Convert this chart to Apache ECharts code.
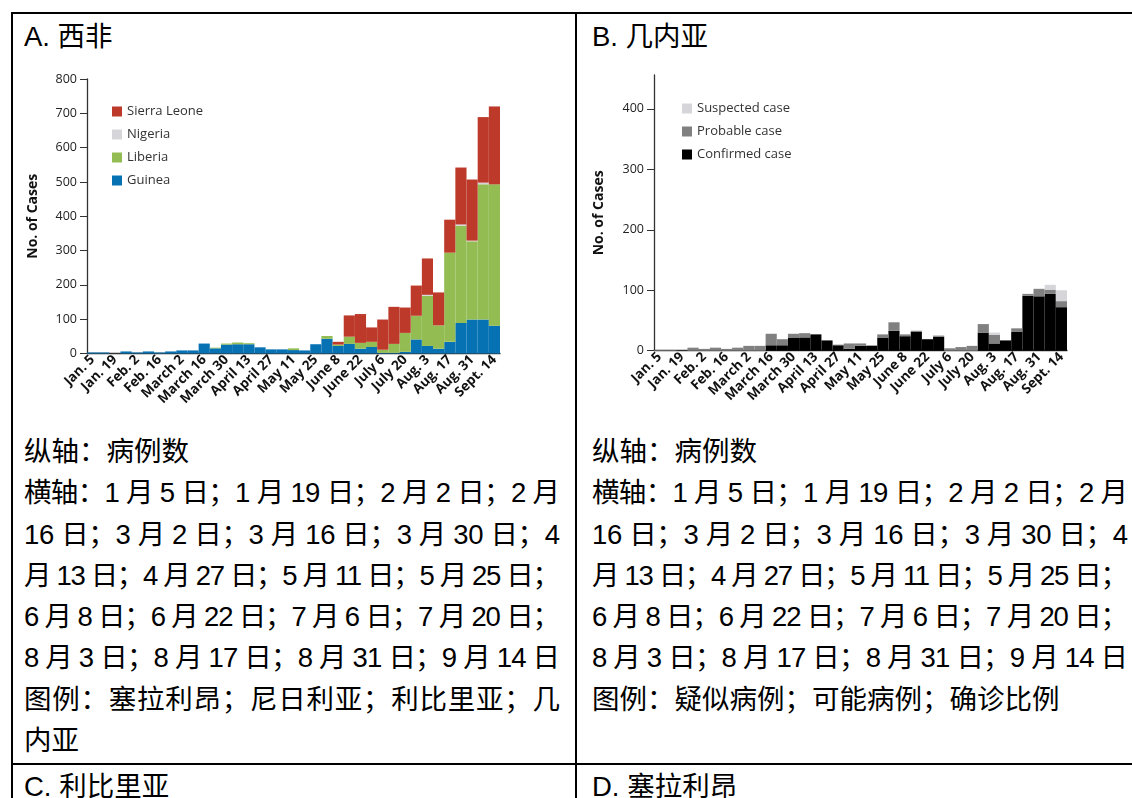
<!DOCTYPE html>
<html><head><meta charset="utf-8">
<script src="https://cdn.jsdelivr.net/npm/echarts@6/dist/echarts.min.js"></script>
<style>
html,body{margin:0;padding:0;background:#fff;width:1132px;height:798px;overflow:hidden;}
#wrap{position:relative;width:1132px;height:798px;}
.ln{position:absolute;background:#000;}
.txt{position:absolute;font-family:"Liberation Sans","Noto Sans CJK SC",sans-serif;font-size:27.5px;line-height:41.3px;color:#000;white-space:nowrap;}
.txt div{height:41.3px;}
.txt span{display:inline-block;white-space:nowrap;}
#chart{position:absolute;left:0;top:0;width:1132px;height:798px;}
</style></head><body>
<div id="wrap">
  <div class="ln" style="left:11px;top:12px;width:1130px;height:2px"></div>
  <div class="ln" style="left:11px;top:12px;width:2px;height:790px"></div>
  <div class="ln" style="left:575px;top:12px;width:2px;height:790px"></div>
  <div class="ln" style="left:11px;top:763px;width:1130px;height:2px"></div>

  <div class="txt" style="left:24px;top:16px">A. 西非</div>
  <div class="txt" style="left:592px;top:16px">B. 几内亚</div>
  <div class="txt" style="left:24px;top:766px">C. 利比里亚</div>
  <div class="txt" style="left:592px;top:766px">D. 塞拉利昂</div>

  <div class="txt" style="left:24px;top:431px;width:536px">
    <div><span>纵轴：病例数</span></div>
    <div><span class="j">横轴：1 月 5 日；1 月 19 日；2 月 2 日；2 月</span></div>
    <div><span class="j">16 日；3 月 2 日；3 月 16 日；3 月 30 日；4</span></div>
    <div><span class="j">月 13 日；4 月 27 日；5 月 11 日；5 月 25 日；</span></div>
    <div><span class="j">6 月 8 日；6 月 22 日；7 月 6 日；7 月 20 日；</span></div>
    <div><span class="j">8 月 3 日；8 月 17 日；8 月 31 日；9 月 14 日</span></div>
    <div><span class="j">图例：塞拉利昂；尼日利亚；利比里亚；几</span></div>
    <div><span>内亚</span></div>
  </div>
  <div class="txt" style="left:592px;top:431px;width:536px">
    <div><span>纵轴：病例数</span></div>
    <div><span class="j">横轴：1 月 5 日；1 月 19 日；2 月 2 日；2 月</span></div>
    <div><span class="j">16 日；3 月 2 日；3 月 16 日；3 月 30 日；4</span></div>
    <div><span class="j">月 13 日；4 月 27 日；5 月 11 日；5 月 25 日；</span></div>
    <div><span class="j">6 月 8 日；6 月 22 日；7 月 6 日；7 月 20 日；</span></div>
    <div><span class="j">8 月 3 日；8 月 17 日；8 月 31 日；9 月 14 日</span></div>
    <div><span>图例：疑似病例；可能病例；确诊比例</span></div>
  </div>
  <div id="chart"></div>
</div>
<script>
// ---- data ----
const weeks = ['Jan. 5','Jan. 12','Jan. 19','Jan. 26','Feb. 2','Feb. 9','Feb. 16','Feb. 23',
  'March 2','March 9','March 16','March 23','March 30','April 6','April 13','April 20','April 27',
  'May 4','May 11','May 18','May 25','June 1','June 8','June 15','June 22','June 29',
  'July 6','July 13','July 20','July 27','Aug. 3','Aug. 10','Aug. 17','Aug. 24','Aug. 31','Sept. 7','Sept. 14'];

// Panel A: West Africa (stack bottom -> top)
const guinea  = [3,3,0,6,3,6,3,6,9,9,29,15,26,27,27,18,12,12,10,9,27,43,22,28,14,19,2,2,5,41,22,14,34,89,99,99,81];
const liberia = [0,0,0,0,0,0,0,0,0,0,0,2,3,5,3,0,0,0,5,0,0,8,4,21,17,15,9,26,55,69,146,68,260,283,228,394,412];
const nigeria = [0,0,0,0,0,0,0,0,0,0,0,0,0,0,0,0,0,0,0,0,0,0,0,0,0,0,0,0,0,0,3,0,0,4,2,5,0];
const sierraLeone = [0,0,0,0,0,0,0,0,0,0,0,0,0,0,0,0,0,0,0,0,0,0,8,62,84,42,88,108,74,88,106,96,96,166,178,191,227];

// Panel B: Guinea (stack bottom -> top)
const confirmed = [0,0,0,0,0,0,0,0,0,0,9,9,21,22,27,17,9,3,8,8,21,33,24,31,19,23,0,0,0,30,12,17,31,91,90,94,72];
const probable  = [1,1,0,5,3,5,3,5,8,8,19,10,7,7,0,0,1,9,4,1,6,14,3,2,0,2,4,6,8,14,14,0,6,3,12,7,10];
const suspected = [0,0,0,0,0,0,0,0,0,0,0,0,0,0,0,0,0,0,0,0,0,0,0,0,0,0,0,0,0,0,4,0,0,0,1,8,18];

const yTicksA = [0,100,200,300,400,500,600,700,800];
const yTicksB = [0,100,200,300,400];

// ---- justify text lines ----
function justifyAll(){
  document.querySelectorAll('span.j').forEach(el=>{
    el.style.letterSpacing='0px';
    const w = el.getBoundingClientRect().width;
    const n = [...el.textContent].length;
    el.style.letterSpacing = ((536 - w)/(n-1)) + 'px';
  });
}
justifyAll();
if (document.fonts && document.fonts.ready) document.fonts.ready.then(justifyAll);

// ---- chart ----
const FONT = 'Open Sans';
function xAxisCfg(g){
  return {
    type:'category', gridIndex:g, data:weeks,
    axisLine:{lineStyle:{color:'#333', width:1.3}},
    axisTick:{alignWithLabel:true, interval:0, length:6, lineStyle:{color:'#333'}},
    axisLabel:{interval:1, rotate:45, fontSize:13.5, fontWeight:'bold', color:'#111', margin:4, fontFamily:FONT}
  };
}
function yAxisCfg(g, max, ticks, gap){
  return {
    type:'value', gridIndex:g, min:0, max:max, interval:100,
    name:'No. of Cases', nameLocation:'middle', nameGap:gap,
    nameTextStyle:{fontSize:14, fontWeight:'bold', color:'#111', fontFamily:FONT},
    axisLine:{show:true, lineStyle:{color:'#333', width:1.3}},
    axisTick:{show:true, length:7, lineStyle:{color:'#333'}, customValues:ticks},
    axisLabel:{fontSize:12.5, color:'#222', margin:10, fontFamily:FONT, customValues:ticks},
    splitLine:{show:false}
  };
}
function bar(name, data, color, xi){
  return {name:name, type:'bar', stack:'s'+xi, xAxisIndex:xi, yAxisIndex:xi, data:data,
    barCategoryGap:'0%', itemStyle:{color:color}, emphasis:{disabled:true}};
}
const chart = echarts.init(document.getElementById('chart'), null, {renderer:'canvas'});
chart.setOption({
  backgroundColor:'transparent',
  animation:false,
  grid:[
    {left:87, top:79, width:413, height:274.5},
    {left:654, top:75, width:413, height:275.7}
  ],
  legend:[
    {left:107, top:100, orient:'vertical', icon:'rect', itemWidth:10, itemHeight:10, itemGap:10,
     data:['Sierra Leone','Nigeria','Liberia','Guinea'],
     textStyle:{fontSize:13, color:'#333', fontFamily:FONT}},
    {left:677, top:97, orient:'vertical', icon:'rect', itemWidth:10, itemHeight:10, itemGap:10,
     data:['Suspected case','Probable case','Confirmed case'],
     textStyle:{fontSize:13, color:'#333', fontFamily:FONT}}
  ],
  xAxis:[xAxisCfg(0), xAxisCfg(1)],
  yAxis:[yAxisCfg(0, 800, yTicksA, 47), yAxisCfg(1, 456, yTicksB, 48)],
  series:[
    bar('Guinea', guinea, '#0672b4', 0),
    bar('Liberia', liberia, '#93bd52', 0),
    bar('Nigeria', nigeria, '#d6d6da', 0),
    bar('Sierra Leone', sierraLeone, '#bd3a2b', 0),
    bar('Confirmed case', confirmed, '#000000', 1),
    bar('Probable case', probable, '#808080', 1),
    bar('Suspected case', suspected, '#d6d6da', 1)
  ]
});
</script>
</body></html>
